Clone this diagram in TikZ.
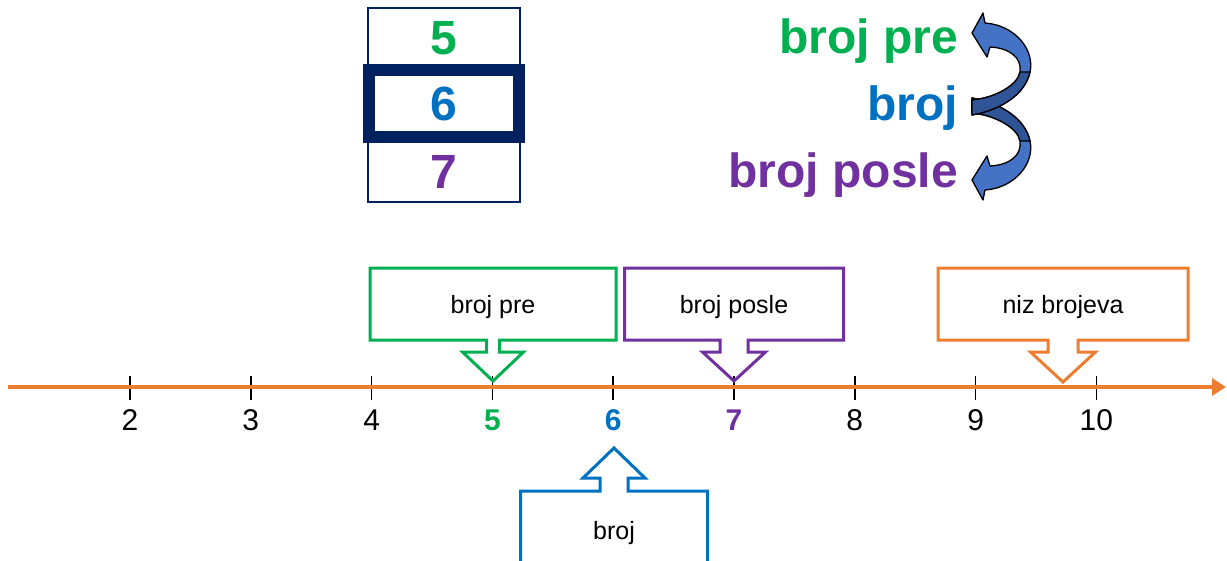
\documentclass[tikz,border=0pt]{standalone}
\usepackage{fontspec}
\setmainfont{Liberation Sans}
\usetikzlibrary{arrows.meta,calc}

\definecolor{brgreen}{HTML}{00B050}
\definecolor{brblue}{HTML}{0070C0}
\definecolor{brpurple}{HTML}{7030A0}
\definecolor{brorange}{HTML}{ED7D31}
\definecolor{brnavy}{HTML}{002060}
\definecolor{arrblue}{HTML}{4472C4}
\definecolor{arrdark}{HTML}{2F5597}

\tikzset{
  bigtxt/.style={font=\fontsize{48}{56}\selectfont\bfseries, anchor=base east, inner sep=0pt},
  cell/.style={minimum width=152pt, minimum height=60pt, inner sep=0pt, outer sep=0pt,
    font=\fontsize{48}{56}\selectfont\bfseries},
  calloutbox/.style={minimum height=72pt, inner sep=0pt, outer sep=0pt, text depth=0pt,
    font=\fontsize{25}{30}\selectfont},
  callline/.style={line width=3pt},
  numlbl/.style={anchor=base, inner sep=0pt, font=\fontsize{30}{36}\selectfont},
  tick/.style={line width=1.6pt},
  ribbon/.style={fill=arrblue, draw=black, line width=1.3pt, line join=round}
}

% callout outline: style, node, near side, far side, stem, wing, wing drop, tip drop
\newcommand{\callout}[8]{%
  \draw[callline, #1] ($(#2.#3)+(#5,0)$) -- (#2.#3 east) -- (#2.#4 east) -- (#2.#4 west)
    -- (#2.#3 west) -- ($(#2.#3)+(-#5,0)$) -- ($(#2.#3)+(-#5,#7)$) -- ($(#2.#3)+(-#6,#7)$)
    -- ($(#2.#3)+(0,#8)$) -- ($(#2.#3)+(#6,#7)$) -- ($(#2.#3)+(#5,#7)$) -- cycle;}

\begin{document}
\begin{tikzpicture}[x=1pt, y=-1pt]
  \useasboundingbox (0,0) rectangle (1227,560);

  % Column of numbers
  \node[cell, text=brgreen] (c5) at (444,38) {5};
  \node[cell, text=brpurple] (c7) at (444,172) {7};
  \draw[brnavy, line width=2pt] (c5.north west) rectangle (c7.south east);
  \node[cell, draw=brnavy, line width=12pt, fill=white, minimum width=150pt, minimum height=67pt,
    text=brblue] (c6) at (444,103.5) {6};

  % Names on the right
  \node[bigtxt, text=brgreen] (tpre) at (958,53) {broj pre};
  \node[bigtxt, text=brblue] (tbroj) at (958,120) {broj};
  \node[bigtxt, text=brpurple] (tposle) at (958,187) {broj posle};

  % Curved arrows
  \begin{scope}[shift={(0,213)}, yscale=-1]
    \draw[ribbon] (972,33) -- (983,13) -- (985,23) .. controls (1015,25) and (1035,50) .. (1030,72)
      .. controls (1025,95) and (1000,110) .. (972,115) -- (972,100)
      .. controls (995,98) and (1018,85) .. (1020,72) .. controls (1022,58) and (1010,48) .. (990,47)
      -- (987,57) -- cycle;
    \filldraw[fill=arrdark, draw=black, line width=1.3pt, line join=round] (1030,72)
      .. controls (1025,95) and (1000,110) .. (972,115) -- (972,100)
      .. controls (995,98) and (1018,85) .. (1020,72) -- cycle;
  \end{scope}
  \draw[ribbon] (972,33) -- (983,13) -- (985,23) .. controls (1015,25) and (1035,50) .. (1030,72)
    .. controls (1025,95) and (1000,110) .. (972,115) -- (972,100)
    .. controls (995,98) and (1018,85) .. (1020,72) .. controls (1022,58) and (1010,48) .. (990,47)
    -- (987,57) -- cycle;
  \filldraw[fill=arrdark, draw=black, line width=1.3pt, line join=round] (1030,72)
    .. controls (1025,95) and (1000,110) .. (972,115) -- (972,100)
    .. controls (995,98) and (1018,85) .. (1020,72) -- cycle;

  % Number line
  \coordinate (ax0) at (8,387);
  \coordinate (ax1) at (1226,387);
  \foreach \i in {2,...,10}{
    \coordinate (t\i) at ({130+(\i-2)*120.8},387);
    \draw[tick] ($(t\i)+(0,-11)$) -- ($(t\i)+(0,13)$);
  }
  \draw[brorange, line width=3.5pt, -{Triangle[length=14pt, width=17pt]}] (ax0) -- (ax1);
  \foreach \i in {2,3,4,8,9,10}
    \node[numlbl] (n\i) at ($(t\i)+(0,43)$) {\i};
  \node[numlbl, text=brgreen, font=\fontsize{30}{36}\selectfont\bfseries] (n5) at ($(t5)+(0,43)$) {5};
  \node[numlbl, text=brblue, font=\fontsize{30}{36}\selectfont\bfseries] (n6) at ($(t6)+(0,43)$) {6};
  \node[numlbl, text=brpurple, font=\fontsize{30}{36}\selectfont\bfseries] (n7) at ($(t7)+(0,43)$) {7};

  % Callouts
  \node[calloutbox, minimum width=246pt] (pre) at (493,304) {broj pre};
  \node[calloutbox, minimum width=219pt] (posle) at (734,304) {broj posle};
  \node[calloutbox, minimum width=250pt] (niz) at (1063,304) {niz brojeva};
  \node[calloutbox, minimum width=187pt, minimum height=78pt] (broj) at (614,530) {broj};
  \callout{brgreen}{pre}{south}{north}{6.5}{30.5}{12}{41}
  \callout{brpurple}{posle}{south}{north}{14}{31.5}{12}{41}
  \callout{brorange}{niz}{south}{north}{15}{32.5}{12}{42}
  \callout{brblue}{broj}{north}{south}{14}{31}{-13}{-43}
\end{tikzpicture}
\end{document}
